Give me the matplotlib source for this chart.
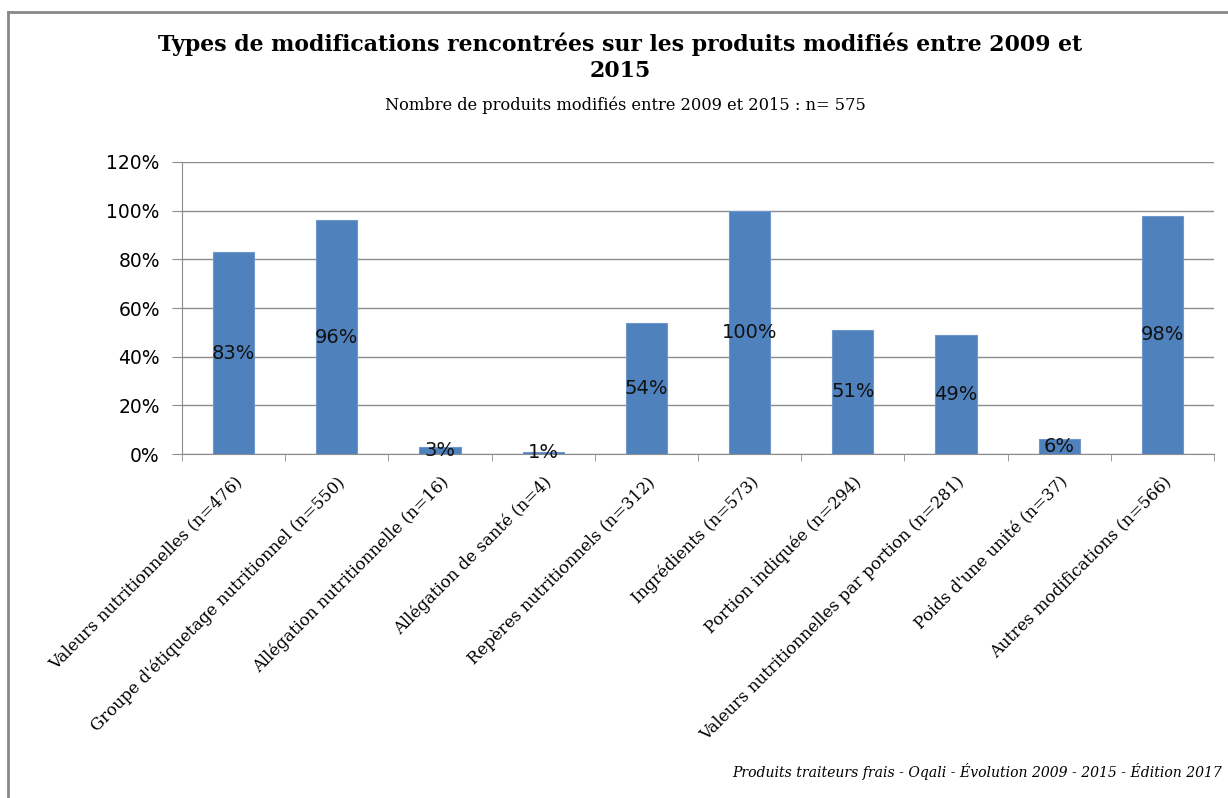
import matplotlib
matplotlib.use("Agg")
import matplotlib.pyplot as plt
from matplotlib.lines import Line2D
import numpy as np

# Data
categories = [
    "Valeurs nutritionnelles (n=476)",
    "Groupe d'étiquetage nutritionnel (n=550)",
    "Allégation nutritionnelle (n=16)",
    "Allégation de santé (n=4)",
    "Repères nutritionnels (n=312)",
    "Ingrédients (n=573)",
    "Portion indiquée (n=294)",
    "Valeurs nutritionnelles par portion (n=281)",
    "Poids d'une unité (n=37)",
    "Autres modifications (n=566)",
]
percent = [83, 96, 3, 1, 54, 100, 51, 49, 6, 98]
y_ticks = [0, 20, 40, 60, 80, 100, 120]

bar_color = "#4F81BD"
grid_color = "#8C8C8C"

fig = plt.figure(figsize=(12.28, 7.98), dpi=100)
ax = fig.add_axes([0.1482, 0.431, 0.8404, 0.366])

x = np.arange(len(categories))
ax.bar(x, percent, width=0.4, color=bar_color, edgecolor="#6F97CB",
       linewidth=0.8, zorder=3)

# data labels centred in each bar
for xi, v in zip(x, percent):
    ax.text(xi, v / 2, f"{v}%", ha="center", va="center",
            fontsize=14, family="DejaVu Sans", color="#111111", zorder=4)

ax.set_xlim(-0.5, len(categories) - 0.5)
ax.set_ylim(0, 120)
ax.set_yticks(y_ticks)
ax.set_yticklabels([f"{t}%" for t in y_ticks], fontsize=13.5, family="DejaVu Sans")
ax.yaxis.grid(True, color=grid_color, linewidth=1, zorder=0)

ax.set_xticks(x)
ax.set_xticklabels(categories, rotation=45, ha="right", rotation_mode="anchor",
                   fontsize=12, family="DejaVu Serif")
ax.tick_params(axis="x", length=0, pad=14)
ax.set_xticks(np.arange(-0.5, len(categories)), minor=True)
ax.tick_params(axis="x", which="minor", length=5, color=grid_color)
ax.tick_params(axis="y", length=7, color=grid_color, pad=9)

for side in ["top", "right"]:
    ax.spines[side].set_visible(False)
for side in ["left", "bottom"]:
    ax.spines[side].set_color(grid_color)

# titles
fig.text(0.505, 0.9286, "Types de modifications rencontrées sur les produits modifiés entre 2009 et\n2015",
         ha="center", va="center", fontsize=15.8, fontweight="bold", family="DejaVu Serif",
         linespacing=1.22)
fig.text(0.509, 0.868, "Nombre de produits modifiés entre 2009 et 2015 : n= 575",
         ha="center", va="center", fontsize=11.7, family="DejaVu Serif")
fig.text(0.995, 0.0326, "Produits traiteurs frais - Oqali - Évolution 2009 - 2015 - Édition 2017",
         ha="right", va="center", fontsize=10.1, style="italic", family="DejaVu Serif")

# outer frame
fig.add_artist(Line2D([0.0065, 0.0065], [0, 0.985], transform=fig.transFigure,
                      color="#888888", linewidth=2))
fig.add_artist(Line2D([0.0065, 1.0], [0.985, 0.985], transform=fig.transFigure,
                      color="#888888", linewidth=2))

fig.savefig("out.png", dpi=100)
